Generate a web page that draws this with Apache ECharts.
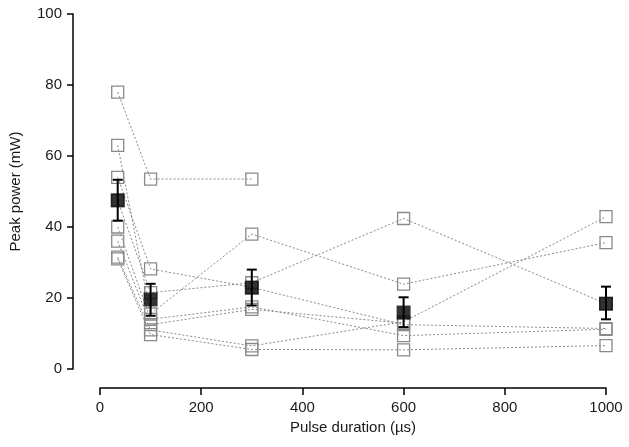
<!DOCTYPE html>
<html>
<head>
<meta charset="utf-8">
<script src="https://cdn.jsdelivr.net/npm/echarts@6/dist/echarts.min.js"></script>
<style>
html,body{margin:0;padding:0;background:#fff;}
#c{width:629px;height:447px;}
</style>
</head>
<body>
<div id="c"></div>
<script>
// Pulse durations (µs)
const durations = [35, 100, 300, 600, 1000];
// Individual recordings (peak power, mW); null = not measured
const subjectA = [78, 53.5, 53.5, null, null];
const subjectB = [63, 15.5, 38, 23.9, 35.6];
const subjectC = [54, 28.2, 23, 12.5, 11.4];
const subjectD = [47.5, 21.5, 24.3, 42.4, 18.4];
const subjectE = [40, 14, 17.5, 9.4, 11.2];
const subjectF = [36, 12.5, 16.8, 12.9, null];
const subjectG = [31.5, 11, 6.5, 13.3, 42.9];
const subjectH = [31, 9.7, 5.5, 5.4, 6.6];
// Group mean and error bar limits
const meanValues = [47.5, 19.6, 22.9, 15.9, 18.4];
const errLow = [41.8, 15.0, 17.9, 11.8, 14.0];
const errHigh = [53.3, 24.0, 28.0, 20.2, 23.2];
// Axis ticks
const xTicks = [0, 200, 400, 600, 800, 1000];
const yTicks = [0, 20, 40, 60, 80, 100];

const subjects = [subjectA, subjectB, subjectC, subjectD, subjectE, subjectF, subjectG, subjectH];
const textColor = '#1a1a1a';
const fontFamily = '"Liberation Sans", Arial, sans-serif';

const chart = echarts.init(document.getElementById('c'));
const series = subjects.map(s => ({
  type: 'line',
  data: durations.map((d, i) => s[i] == null ? null : [d, s[i]]).filter(p => p),
  symbol: 'rect',
  symbolSize: 12,
  clip: false,
  lineStyle: { color: '#8a8a8a', width: 1, type: [2, 2] },
  itemStyle: { color: 'rgba(255,255,255,0)', borderColor: '#8a8a8a', borderWidth: 1.3 },
  emphasis: { disabled: true },
  z: 2
}));
series.push({
  type: 'custom',
  data: durations.map((d, i) => [d, errLow[i], errHigh[i]]),
  encode: { x: 0, y: [1, 2] },
  clip: false,
  z: 3,
  renderItem: function (params, api) {
    const x = api.value(0);
    const lo = api.coord([x, api.value(1)]);
    const hi = api.coord([x, api.value(2)]);
    const w = 5;
    const st = { stroke: '#000', lineWidth: 2 };
    return {
      type: 'group',
      children: [
        { type: 'line', shape: { x1: lo[0], y1: lo[1], x2: hi[0], y2: hi[1] }, style: st },
        { type: 'line', shape: { x1: lo[0] - w, y1: lo[1], x2: lo[0] + w, y2: lo[1] }, style: st },
        { type: 'line', shape: { x1: hi[0] - w, y1: hi[1], x2: hi[0] + w, y2: hi[1] }, style: st }
      ]
    };
  }
});
series.push({
  type: 'scatter',
  data: durations.map((d, i) => [d, meanValues[i]]),
  symbol: 'rect',
  symbolSize: 14,
  clip: false,
  itemStyle: { color: '#000' },
  emphasis: { disabled: true },
  z: 4
});

chart.setOption({
  animation: false,
  backgroundColor: '#fff',
  grid: { left: 99, right: 23, top: 14, bottom: 78 },
  xAxis: {
    type: 'value',
    min: xTicks[0], max: xTicks[xTicks.length - 1], interval: 200,
    offset: 19,
    name: 'Pulse duration (µs)',
    nameLocation: 'middle',
    nameGap: 30,
    nameTextStyle: { color: textColor, fontSize: 15, fontFamily: fontFamily },
    axisLine: { onZero: false, lineStyle: { color: '#000', width: 1.5 } },
    axisTick: { inside: false, length: 7, lineStyle: { color: '#000', width: 1.5 } },
    axisLabel: { color: textColor, fontSize: 15, fontFamily: fontFamily, margin: 12, formatter: v => String(v) },
    splitLine: { show: false }
  },
  yAxis: {
    type: 'value',
    min: yTicks[0], max: yTicks[yTicks.length - 1], interval: 20,
    offset: 27,
    name: 'Peak power (mW)',
    nameLocation: 'middle',
    nameGap: 50,
    nameTextStyle: { color: textColor, fontSize: 15, fontFamily: fontFamily },
    axisLine: { show: true, onZero: false, lineStyle: { color: '#000', width: 1.5 } },
    axisTick: { show: true, inside: false, length: 6, lineStyle: { color: '#000', width: 1.5 } },
    axisLabel: { color: textColor, fontSize: 15, fontFamily: fontFamily, margin: 11, formatter: v => String(v) },
    splitLine: { show: false }
  },
  series: series
});
</script>
</body>
</html>
